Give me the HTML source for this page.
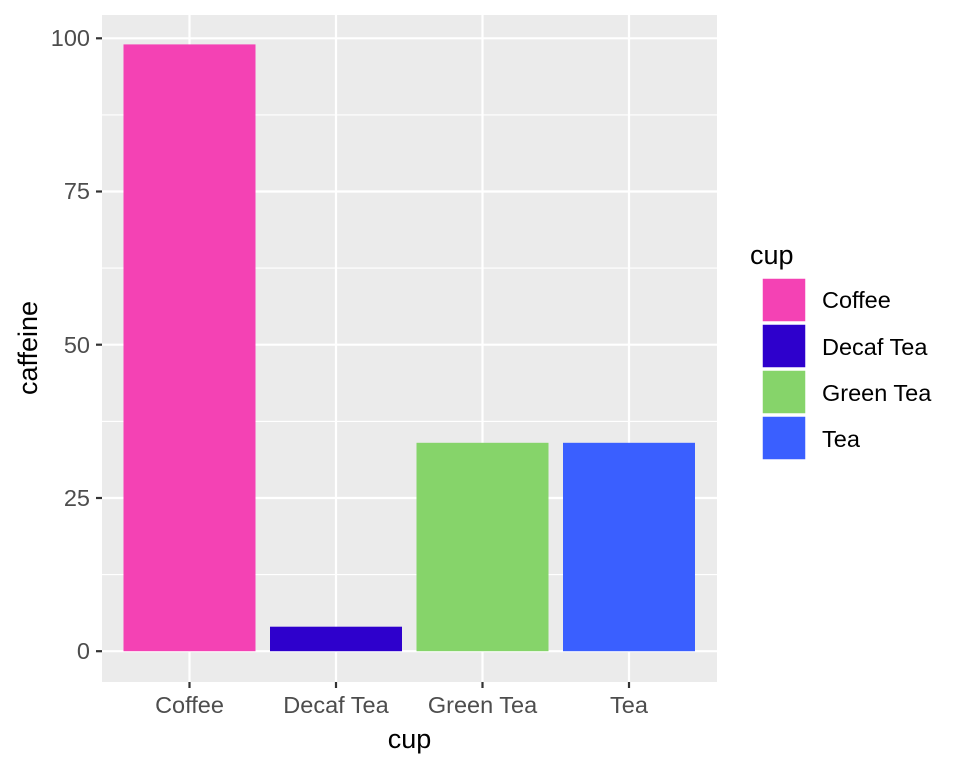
<!DOCTYPE html>
<html><head><style>body{margin:0;background:#fff}svg{display:block}</style></head><body>
<svg width="960" height="768" xmlns="http://www.w3.org/2000/svg" font-family="Liberation Sans, Arial, sans-serif">
<rect x="102" y="15" width="615" height="667" fill="#EBEBEB"/>
<g stroke="#fff" stroke-width="1.1">
<line x1="102" x2="717" y1="574.6" y2="574.6"/><line x1="102" x2="717" y1="421.4" y2="421.4"/>
<line x1="102" x2="717" y1="268.1" y2="268.1"/><line x1="102" x2="717" y1="114.9" y2="114.9"/>
</g>
<g stroke="#fff" stroke-width="2.2">
<line x1="102" x2="717" y1="651.2" y2="651.2"/><line x1="102" x2="717" y1="498" y2="498"/>
<line x1="102" x2="717" y1="344.7" y2="344.7"/><line x1="102" x2="717" y1="191.5" y2="191.5"/>
<line x1="102" x2="717" y1="38.3" y2="38.3"/>
<line x1="189.5" x2="189.5" y1="15" y2="682"/><line x1="336" x2="336" y1="15" y2="682"/>
<line x1="482.5" x2="482.5" y1="15" y2="682"/><line x1="629" x2="629" y1="15" y2="682"/>
</g>
<rect x="123.5" y="44.4" width="132" height="606.8" fill="#F442B4"/>
<rect x="270" y="626.7" width="132" height="24.5" fill="#2E00CC"/>
<rect x="416.5" y="442.8" width="132" height="208.4" fill="#86D46A"/>
<rect x="563" y="442.8" width="132" height="208.4" fill="#3A5FFF"/>
<g stroke="#333" stroke-width="2.2">
<line x1="96" x2="102" y1="651.2" y2="651.2"/><line x1="96" x2="102" y1="498" y2="498"/>
<line x1="96" x2="102" y1="344.7" y2="344.7"/><line x1="96" x2="102" y1="191.5" y2="191.5"/>
<line x1="96" x2="102" y1="38.3" y2="38.3"/>
<line x1="189.5" x2="189.5" y1="682" y2="688"/><line x1="336" x2="336" y1="682" y2="688"/>
<line x1="482.5" x2="482.5" y1="682" y2="688"/><line x1="629" x2="629" y1="682" y2="688"/>
</g>
<g fill="#4D4D4D" font-size="23.5" text-anchor="end">
<text x="90" y="659">0</text><text x="90" y="506">25</text><text x="90" y="353">50</text>
<text x="90" y="199">75</text><text x="90" y="46">100</text>
</g>
<g fill="#4D4D4D" font-size="23.5" text-anchor="middle">
<text x="189.5" y="713">Coffee</text><text x="336" y="713">Decaf Tea</text>
<text x="482.5" y="713">Green Tea</text><text x="629" y="713">Tea</text>
</g>
<text x="409.5" y="748" font-size="27" text-anchor="middle">cup</text>
<text transform="translate(37,348) rotate(-90)" font-size="27" text-anchor="middle">caffeine</text>
<text x="750" y="264" font-size="27">cup</text>
<rect x="762" y="278" width="44" height="44" fill="#F442B4" stroke="#fff" stroke-width="1.5"/>
<rect x="762" y="324" width="44" height="44" fill="#2E00CC" stroke="#fff" stroke-width="1.5"/>
<rect x="762" y="370" width="44" height="44" fill="#86D46A" stroke="#fff" stroke-width="1.5"/>
<rect x="762" y="416" width="44" height="44" fill="#3A5FFF" stroke="#fff" stroke-width="1.5"/>
<g font-size="23.5">
<text x="822" y="308">Coffee</text><text x="822" y="355">Decaf Tea</text>
<text x="822" y="401">Green Tea</text><text x="822" y="447">Tea</text>
</g>
</svg>
</body></html>
